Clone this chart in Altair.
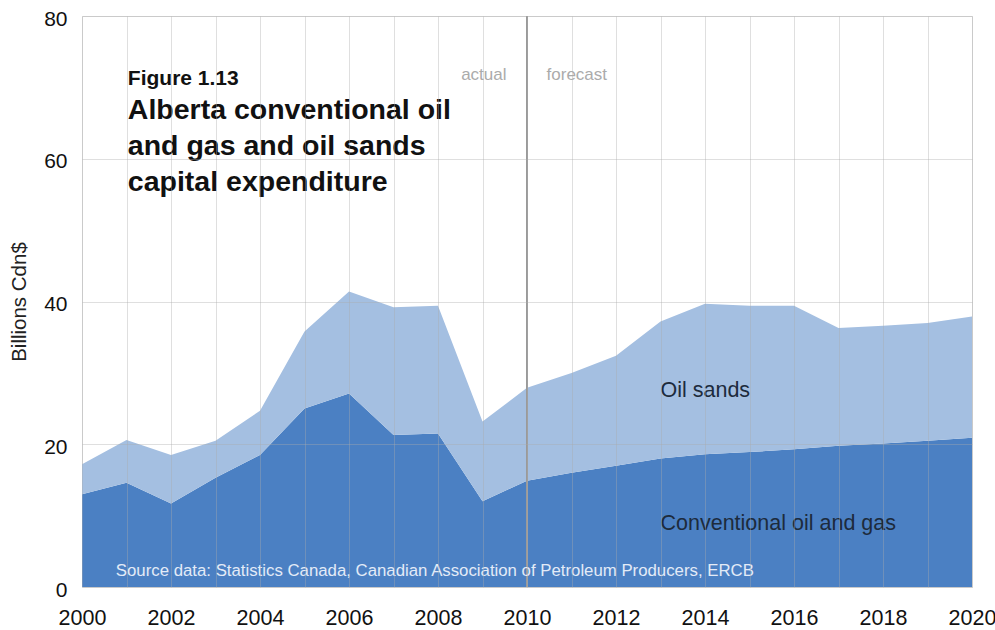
import altair as alt
import pandas as pd

years = list(range(2000, 2021))
conventional = [13.0, 14.6, 11.7, 15.3, 18.5, 25.0, 27.1, 21.3, 21.5, 12.0,
                14.9, 16.0, 17.0, 18.0, 18.6, 18.9, 19.3, 19.8, 20.1, 20.5, 20.9]
total = [17.2, 20.6, 18.5, 20.5, 24.7, 35.8, 41.4, 39.2, 39.4, 23.2,
         27.9, 30.0, 32.4, 37.2, 39.7, 39.4, 39.4, 36.3, 36.6, 37.0, 37.9]
oil_sands = [round(t - c, 2) for t, c in zip(total, conventional)]
series = ["Conventional oil and gas", "Oil sands"]
colors = ["#4b80c3", "#a4bfe1"]

rows = []
for i, y in enumerate(years):
    rows.append({"year": y, "series": series[0], "value": conventional[i], "ord": 0})
    rows.append({"year": y, "series": series[1], "value": oil_sands[i], "ord": 1})
df = pd.DataFrame(rows)

FONT = "Liberation Sans"

xscale = alt.Scale(domain=[2000, 2020], nice=False, zero=False)
yscale = alt.Scale(domain=[0, 80], nice=False)

area = alt.Chart(df).mark_area(opacity=1).encode(
    x=alt.X("year:Q", scale=xscale,
            axis=alt.Axis(values=years, format="d", title=None,
                          labelExpr="datum.value % 2 == 0 ? datum.label : ''",
                          labelFontSize=21.5, labelColor="#111", labelPadding=20,
                          ticks=False, domain=False, grid=True,
                          gridColor="#aaaaaa", gridOpacity=0.38, zindex=1,
                          labelFont=FONT, labelFlush=False)),
    y=alt.Y("value:Q", stack="zero", scale=yscale,
            axis=alt.Axis(values=[0, 20, 40, 60, 80], title="Billions Cdn$",
                          titleFontSize=20.5, titleFontWeight="normal", titleColor="#222",
                          titleFont=FONT, titlePadding=14,
                          labelFontSize=21, labelColor="#111", labelPadding=15,
                          labelOffset=3,
                          labelFont=FONT, ticks=False, domain=False, grid=True,
                          gridColor="#aaaaaa", gridOpacity=0.38, zindex=1)),
    color=alt.Color("series:N", scale=alt.Scale(domain=series, range=colors), legend=None),
    order=alt.Order("ord:Q"),
)

rule = alt.Chart().mark_rule(color="#9a9a9a", strokeWidth=2).encode(
    x=alt.datum(2010), y=alt.value(0), y2=alt.value(571))

def txt(s, x, y, size, color, weight="normal", align="left", **kw):
    return alt.Chart().mark_text(text=s, fontSize=size, color=color, fontWeight=weight,
                                 align=align, baseline="alphabetic", font=FONT, **kw).encode(
        x=alt.datum(x), y=alt.datum(y))

t_actual = txt("actual", 2009.54, 71.0, 17, "#ababab", align="right")
t_fore = txt("forecast", 2010.44, 71.0, 17, "#ababab")
t_fig = txt("Figure 1.13", 2001.03, 70.3, 21, "#111", weight="bold")
t_title = txt(["Alberta conventional oil", "and gas and oil sands", "capital expenditure"],
              2001.03, 65.6, 28.5, "#111", weight="bold", lineHeight=36)
t_os = txt("Oil sands", 2013.0, 26.6, 21.5, "#1d2b3c")
t_cv = txt("Conventional oil and gas", 2013.0, 8.0, 21.5, "#1d2b3c")
t_src = txt("Source data: Statistics Canada, Canadian Association of Petroleum Producers, ERCB",
            2000.76, 1.55, 16.8, "#e3ebf7")

chart = alt.layer(area, rule, t_actual, t_fore, t_fig, t_title, t_os, t_cv, t_src).properties(
    width=890, height=571,
    autosize=alt.AutoSizeParams(type="none"),
    padding={"left": 82, "top": 16, "right": 23, "bottom": 43},
).configure_view(stroke=None).configure(background="white")

chart.save("out.html", embed_options={"renderer": "svg", "actions": False})
